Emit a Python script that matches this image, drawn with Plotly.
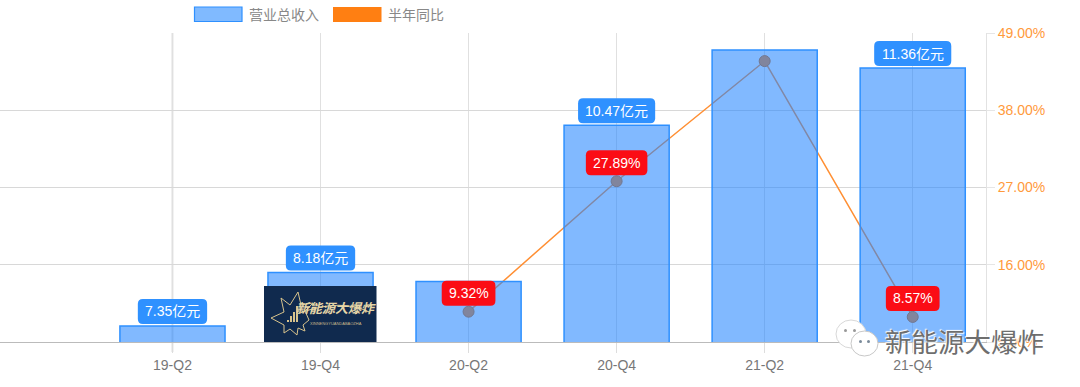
import plotly.graph_objects as go

categories = ["19-Q2", "19-Q4", "20-Q2", "20-Q4", "21-Q2", "21-Q4"]
revenue = [7.35, 8.18, 8.04, 10.47, 11.64, 11.36]
revenue_labels = ["7.35亿元", "8.18亿元", None, "10.47亿元", None, "11.36亿元"]
yoy = [None, None, 9.32, 27.89, 45.0, 8.57]
yoy_labels = [None, None, "9.32%", "27.89%", None, "8.57%"]
yoy_ticks = [5, 16, 27, 38, 49]
legend_names = ["营业总收入", "半年同比"]
watermark = "新能源大爆炸"

W, H = 1080, 387
L, R, T, B = 0, 986, 33, 342
LAT = "Liberation Sans, Arial, sans-serif"
CJK = "Noto Sans CJK SC, sans-serif"
BLUE_FILL = "rgba(30,130,255,0.56)"
BLUE_LINE = "#2e90ff"
ORANGE = "#ff8f33"

def px(x):
    return (x - L) / (R - L)

def py(y):
    return (B - y) / (B - T)

def rounded_path(w, y0, y1, r=5):
    h = w / 2
    return (f"M {-h + r} {y0} L {h - r} {y0} Q {h} {y0} {h} {y0 + r} L {h} {y1 - r} Q {h} {y1} {h - r} {y1} "
            f"L {-h + r} {y1} Q {-h} {y1} {-h} {y1 - r} L {-h} {y0 + r} Q {-h} {y0} {-h + r} {y0} Z")

def text_width(s):
    w = 0
    for c in s:
        if c == ".":
            w += 3.9
        elif c == "%":
            w += 12.4
        elif c.isdigit():
            w += 7.8
        else:
            w += 14
    return w

fig = go.Figure()
fig.add_trace(go.Scatter(
    x=categories, y=yoy, yaxis="y", mode="lines+markers", name=legend_names[1],
    line=dict(color=ORANGE, width=1.5),
    marker=dict(size=11, color="#ff8a20", line=dict(color="#d96a08", width=1)),
    connectgaps=False, showlegend=False, cliponaxis=False,
))
fig.add_trace(go.Bar(
    x=categories, y=revenue, yaxis="y2", name=legend_names[0], width=0.71,
    marker=dict(color=BLUE_FILL, line=dict(color=BLUE_LINE, width=1.5)),
    showlegend=False,
))

shapes, annos = [], []

# darker first vertical guide
shapes.append(dict(type="line", xref="x", yref="paper", x0=categories[0], x1=categories[0],
                   y0=py(352), y1=1, line=dict(color="#c4c4c4", width=1.5), layer="below"))

# value labels
for cat, v, lab in zip(categories, revenue, revenue_labels):
    if lab:
        shapes.append(dict(type="path", xref="x", yref="y2", xsizemode="pixel", ysizemode="pixel",
                           xanchor=cat, yanchor=v, path=rounded_path(text_width(lab) + 14, 2, 27),
                           fillcolor="#2f91ff", line=dict(width=0), layer="above"))
        annos.append(dict(x=cat, y=v, xref="x", yref="y2", yshift=14.5, text=lab, showarrow=False,
                          font=dict(family=LAT + ", " + CJK, size=14, color="white"), yanchor="middle"))
for cat, v, lab in zip(categories, yoy, yoy_labels):
    if lab:
        shapes.append(dict(type="path", xref="x", yref="y", xsizemode="pixel", ysizemode="pixel",
                           xanchor=cat, yanchor=v, path=rounded_path(text_width(lab) + 14, 6, 31),
                           fillcolor="#fb0c15", line=dict(width=0), layer="above"))
        annos.append(dict(x=cat, y=v, xref="x", yref="y", yshift=18.5, text=lab, showarrow=False,
                          font=dict(family=LAT, size=14, color="white"), yanchor="middle"))

def paper_rect(x0, y0, x1, y1, **kw):
    shapes.append(dict(type="rect", xref="paper", yref="paper", x0=px(x0), x1=px(x1), y0=py(y0), y1=py(y1), **kw))

# legend
paper_rect(194.5, 7, 242, 21.5, fillcolor="#80baff", line=dict(color=BLUE_LINE, width=1.2), layer="above")
paper_rect(333, 7, 381.5, 22, fillcolor="#ff7f12", line=dict(width=0), layer="above")
for x, name in ((247, legend_names[0]), (386, legend_names[1])):
    annos.append(dict(xref="paper", yref="paper", x=px(x), y=py(13.5), xanchor="left", yanchor="middle",
                      text=name, showarrow=False, font=dict(family=CJK, size=14, color="#888888")))

# logo block
GOLD = "#d8c38c"
paper_rect(264, 286, 376.5, 342, fillcolor="#102a4e", line=dict(width=0), layer="above")
star = [(271, 318), (284, 312), (281, 298), (290, 305), (298, 292), (301, 305), (313, 303), (305, 311), (309, 320),
        (303, 325), (305, 331), (298, 328), (297, 335), (290, 329), (284, 333), (284, 325)]
path = "M " + " L ".join(f"{px(x)} {py(y)}" for x, y in star) + " Z"
shapes.append(dict(type="path", xref="paper", yref="paper", path=path, fillcolor="#102a4e",
                   line=dict(color=GOLD, width=1), layer="above"))
for x, top in ((287, 320), (290, 316), (293, 312), (296, 306)):
    paper_rect(x, top, x + 2, 322, fillcolor=GOLD, line=dict(width=0), layer="above")
shapes.append(dict(type="path", xref="paper", yref="paper", layer="above", line=dict(color=GOLD, width=1.2),
                   path=f"M {px(300)} {py(313)} Q {px(340)} {py(298)} {px(369)} {py(312)}"))
annos.append(dict(xref="paper", yref="paper", x=px(336), y=py(319), text="<b><i>新能源大爆炸</i></b>", showarrow=False,
                  font=dict(family=CJK, size=13, color="#e6d6a8")))
annos.append(dict(xref="paper", yref="paper", x=px(336), y=py(328), text="XINNENGYUANDABAOZHA", showarrow=False,
                  font=dict(family=LAT, size=4, color="#c8b88c")))

# watermark
def circle(x0, y0, x1, y1, fill, line):
    shapes.append(dict(type="circle", xref="paper", yref="paper", x0=px(x0), x1=px(x1), y0=py(y0), y1=py(y1),
                       fillcolor=fill, line=line, layer="above"))
soft = dict(color="#d8d8d8", width=1)
circle(836, 320, 866, 348, "white", soft)
circle(851, 331, 878, 356, "white", dict(color="#c8c8c8", width=1))
for a, b, col in ((844, 329, "#999"), (853, 329, "#999"), (859, 340, "#7a8a9a"), (867, 340, "#7a8a9a")):
    circle(a, b, a + 3, b + 3, col, dict(width=0))
annos.append(dict(xref="paper", yref="paper", x=px(883), y=py(340), xanchor="left", yanchor="middle",
                  text=watermark, showarrow=False,
                  font=dict(family=CJK, size=26.5, color="#6e6e6e",
                            shadow="1px 1px 1px #ffffff, -1px -1px 1px #ffffff")))

fig.update_layout(
    width=W, height=H, margin=dict(l=L, r=W - R, t=T, b=H - B, pad=0, autoexpand=False),
    paper_bgcolor="white", plot_bgcolor="white", bargap=0.29, showlegend=False, hovermode=False,
    shapes=shapes, annotations=annos,
    xaxis=dict(type="category", categoryorder="array", categoryarray=categories, range=[-1.165, 5.495],
               showgrid=True, gridcolor="#e0e0e0", gridwidth=1, ticks="outside", ticklen=10, tickcolor="#dddddd",
               showline=True, linecolor="#bbbbbb", linewidth=1,
               tickfont=dict(family=LAT, size=14, color="#777777"), zeroline=False),
    yaxis=dict(range=[5, 49], side="right", tickvals=yoy_ticks, ticktext=[f"{t:.2f}%" for t in yoy_ticks],
               showgrid=True, gridcolor="#d8d8d8", gridwidth=1, ticks="outside", ticklen=8, tickcolor="#e6e6e6",
               showline=True, linecolor="#e2e2e2", linewidth=1, zeroline=False, mirror=False,
               tickfont=dict(family=LAT, size=14, color="#ff9a3c")),
    yaxis2=dict(range=[7.1, 11.906], overlaying="y", side="left", visible=False, showgrid=False),
)
fig.write_html("out.html", config={"displayModeBar": False}, post_script="document.body.style.margin='0';")
